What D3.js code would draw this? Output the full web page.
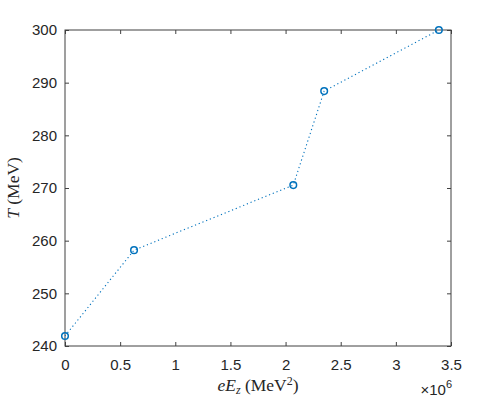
<!DOCTYPE html>
<html>
<head>
<meta charset="utf-8">
<script src="https://cdn.jsdelivr.net/npm/d3@7"></script>
<style>
  body { margin: 0; background: #fff; }
  svg { display: block; }
  .tick text, .expo { font-family: "Liberation Sans", Arial, sans-serif; font-size: 15px; fill: #262626; }
  .lbl { font-family: "Liberation Serif", "DejaVu Serif", serif; font-size: 17.5px; fill: #262626; }
</style>
</head>
<body>
<svg width="498" height="399"></svg>
<script>
const width = 498, height = 399;
const margin = { top: 30, right: 47, bottom: 53, left: 65 };
const svg = d3.select("svg");

// data (x in units of 1e6 MeV^2)
const eEz = [0, 0.626, 2.07, 2.35, 3.39];
const temp = [241.9, 258.2, 270.55, 288.4, 300];
const xTicks = [0, 0.5, 1, 1.5, 2, 2.5, 3, 3.5];
const yTicks = [240, 250, 260, 270, 280, 290, 300];

const w = width - margin.left - margin.right, h = height - margin.top - margin.bottom;
const x = d3.scaleLinear().domain([0, 3.5]).range([0, w]);
const y = d3.scaleLinear().domain([240, 300]).range([h, 0]);

const g = svg.append("g").attr("transform", `translate(${margin.left},${margin.top})`);
const axisColor = "#404040";

function styleAxis(sel) {
  sel.select(".domain").remove();
  sel.selectAll(".tick line").attr("stroke", axisColor);
}

g.append("g").attr("transform", `translate(0,${h})`)
  .call(d3.axisBottom(x).tickValues(xTicks).tickSize(-4).tickPadding(13).tickFormat(d3.format("")))
  .call(styleAxis);
g.append("g")
  .call(d3.axisTop(x).tickValues(xTicks).tickSize(-4).tickFormat(""))
  .call(styleAxis);
g.append("g")
  .call(d3.axisLeft(y).tickValues(yTicks).tickSize(-4).tickPadding(8))
  .call(styleAxis);
g.append("g").attr("transform", `translate(${w},0)`)
  .call(d3.axisRight(y).tickValues(yTicks).tickSize(-4).tickFormat(""))
  .call(styleAxis);

g.append("rect").attr("width", w).attr("height", h)
  .attr("fill", "none").attr("stroke", axisColor).attr("stroke-width", 1);

const pts = eEz.map((v, i) => ({ x: v, y: temp[i] }));
g.append("path").datum(pts)
  .attr("fill", "none").attr("stroke", "#0072BD").attr("stroke-width", 1.1)
  .attr("stroke-dasharray", "1.2,2.8")
  .attr("d", d3.line().x(d => x(d.x)).y(d => y(d.y)));
g.selectAll("circle").data(pts).join("circle")
  .attr("cx", d => x(d.x)).attr("cy", d => y(d.y)).attr("r", 3.3)
  .attr("fill", "none").attr("stroke", "#0072BD").attr("stroke-width", 1.5);

// x label
const xl = svg.append("text").attr("class", "lbl")
  .attr("x", margin.left + w / 2).attr("y", 391).attr("text-anchor", "middle");
xl.append("tspan").attr("font-style", "italic").text("eE");
xl.append("tspan").attr("font-style", "italic").attr("font-size", "12px").attr("dy", 3).text("z");
xl.append("tspan").attr("dy", -3).text(" (MeV");
xl.append("tspan").attr("font-size", "12px").attr("dy", -6).text("2");
xl.append("tspan").attr("dy", 6).text(")");

// exponent
const ex = svg.append("text").attr("class", "expo")
  .attr("x", 452).attr("y", 395).attr("text-anchor", "end");
ex.append("tspan").text("×10");
ex.append("tspan").attr("font-size", "11px").attr("dy", -7).text("6");

// y label
const yl = svg.append("text").attr("class", "lbl")
  .attr("transform", `translate(19,${margin.top + h / 2}) rotate(-90)`)
  .attr("text-anchor", "middle");
yl.append("tspan").attr("font-style", "italic").text("T");
yl.append("tspan").text(" (MeV)");
</script>
</body>
</html>
